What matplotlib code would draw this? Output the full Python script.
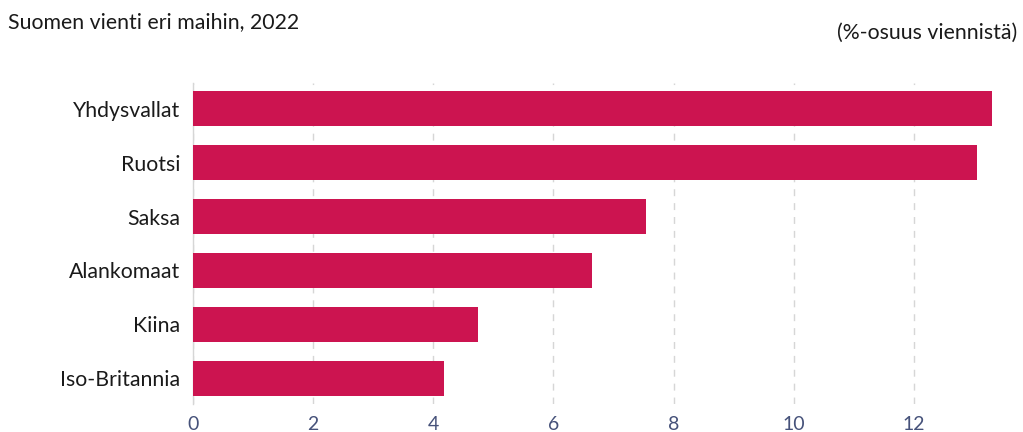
import matplotlib
matplotlib.use("Agg")
import matplotlib.pyplot as plt

countries = ["Yhdysvallat", "Ruotsi", "Saksa", "Alankomaat", "Kiina", "Iso-Britannia"]
shares = [13.3, 13.05, 7.54, 6.64, 4.74, 4.18]
xticks = [0, 2, 4, 6, 8, 10, 12]
title = "Suomen vienti eri maihin, 2022"
unit = "(%-osuus viennistä)"

fig = plt.figure(figsize=(10.23, 4.32), dpi=100)
ax = fig.add_axes([193 / 1023, 1 - 404 / 432, (998 - 193) / 1023, (404 - 83) / 432])

n = len(countries)
ypos = list(range(n - 1, -1, -1))
ax.barh(ypos, shares, height=0.65, color="#CC1450", zorder=3)

ax.set_xlim(0, 13.4)
ax.set_ylim(-0.48, n - 1 + 0.48)
ax.set_xticks(xticks)
ax.set_xticklabels([str(t) for t in xticks], fontfamily="Lato",
                   fontsize=14, color="#46527a")
ax.set_yticks(ypos)
ax.set_yticklabels(countries, fontfamily="Lato", fontsize=15.3, color="#1a1a1a")
ax.tick_params(axis="both", length=0)
ax.tick_params(axis="x", pad=9)
ax.tick_params(axis="y", pad=9)

ax.grid(axis="x", color="#d6d6d6", linestyle=(0, (5, 5)), linewidth=1.0, zorder=0)
for s in ["top", "right", "bottom"]:
    ax.spines[s].set_visible(False)
ax.spines["left"].set_color("#d6d6d6")
ax.spines["left"].set_linewidth(1.0)

fig.text(8 / 1023, 1 - 22 / 432, title, fontfamily="Lato", fontsize=15.3, color="#1a1a1a",
         ha="left", va="center")
fig.text(1017 / 1023, 1 - 33 / 432, unit, fontfamily="Lato", fontsize=15.3, color="#1a1a1a",
         ha="right", va="center")

fig.savefig("out.png", dpi=100, facecolor="white")
